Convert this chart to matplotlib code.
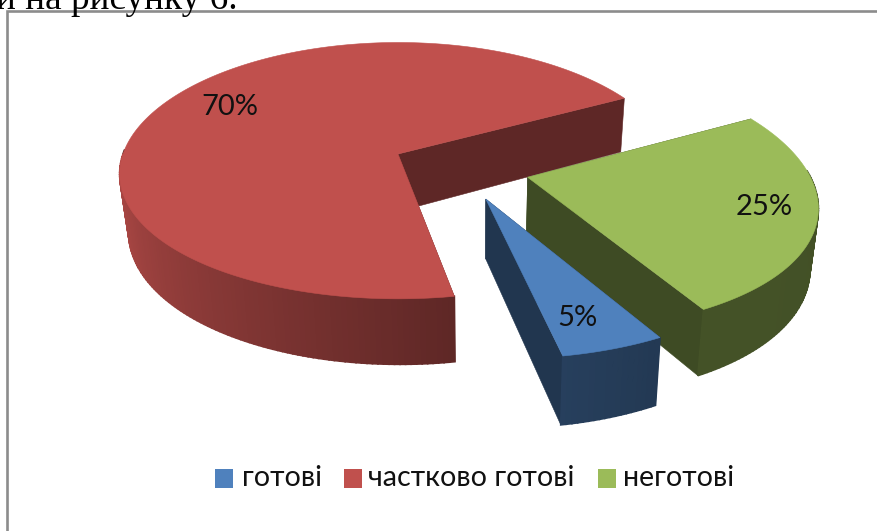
import numpy as np
from matplotlib import pyplot as plt
from matplotlib.patches import Rectangle

labels = ['готові', 'частково готові', 'неготові']
values = [5, 70, 25]
colors = ['#4F81BD', '#C0504D', '#9BBB59']
side_shades = [0.42, 0.49, 0.40]
pct_labels = ['5%', '70%', '25%']

start_angle = -62  # slices run clockwise from here
explode = 0.247
fonts = ['Lato', 'Open Sans', 'DejaVu Sans']


def project(X, Y, Z):
    # camera view of the pie, Z=1 is the bottom plane
    sx = 398 + 275 * X / (1 + 0.155 * Y)
    sy = 154 - (126 * Y - 57 * Z) / (1 + 0.13 * Y)
    sx = sx - Z * 0.025 * (sx - 480)
    return sx, sy


def shade(color, f):
    rgb = np.array(plt.matplotlib.colors.to_rgb(color))
    return tuple(rgb * f)


def wall_factor(theta):
    # lighter on the left of the pie, dark towards the front right
    t = (theta + 180) % 360 - 180
    return np.interp(t, [-180, -170, -80, -62, 40], [0.92, 0.9, 0.49, 0.44, 0.42])


fig = plt.figure(figsize=(8.78, 5.31), dpi=100)
ax = fig.add_axes([0, 0, 1, 1])
ax.set_xlim(0, 878)
ax.set_ylim(531, 0)
ax.axis('off')

# body text above the chart, cut by the frame
ax.text(-4, 9, 'и на рисунку 6.', family='Liberation Serif', fontsize=26.8, color='black', va='baseline')
ax.add_patch(Rectangle((8, 11), 870, 520, facecolor='white', edgecolor='none', zorder=1))
ax.plot([7.5, 7.5, 878], [531, 11, 11], color='#8c8c8c', lw=1.9, solid_joinstyle='miter', zorder=2)

# work out each slice
ends = start_angle - 3.6 * np.cumsum(values)
starts = ends + 3.6 * np.array(values)
mids = (starts + ends) / 2
red_mid = np.radians(mids[1])

# red at the back, then green, then blue
for i in [1, 2, 0]:
    m = np.radians(mids[i])
    ox = explode * (np.cos(m) - np.cos(red_mid))
    oy = explode * (np.sin(m) - np.sin(red_mid))
    th = np.arange(ends[i], starts[i] + 0.5, 1.0)
    th[-1] = starts[i]
    cx = ox + np.cos(np.radians(th))
    cy = oy + np.sin(np.radians(th))
    tx, ty = project(cx, cy, 0)
    bx, by = project(cx, cy, 1)

    # flat side walls first
    dark = shade(colors[i], side_shades[i])
    px, py = project(ox, oy, 0)
    qx, qy = project(ox, oy, 1)
    ax.fill([px, tx[0], bx[0], qx], [py, ty[0], by[0], qy], color=dark, lw=0.4, zorder=3)
    ax.fill([px, tx[-1], bx[-1], qx], [py, ty[-1], by[-1], qy], color=dark, lw=0.4, zorder=3)

    # outer wall, only the part facing us
    for j in range(len(th) - 1):
        if np.sin(np.radians(th[j])) > 0.05:
            continue
        c = shade(colors[i], wall_factor(th[j]))
        ax.fill([tx[j], tx[j + 1], bx[j + 1], bx[j]], [ty[j], ty[j + 1], by[j + 1], by[j]],
                color=c, lw=1.2, zorder=3)

    # top
    ax.fill(np.r_[px, tx], np.r_[py, ty], color=colors[i], lw=0.4, zorder=3)

# data labels
for txt, x, y in zip(pct_labels, [577, 230, 764], [318, 107, 207]):
    ax.text(x, y, txt, family=fonts, fontsize=21, color='#111111', ha='center', va='center', zorder=4)

# legend
for lab, col, sq_x, tx_x in zip(labels, colors, [215, 344, 598], [242, 368, 623]):
    ax.add_patch(Rectangle((sq_x, 469), 18, 19, facecolor=col, edgecolor='none', zorder=4))
    ax.text(tx_x, 478, lab, family=fonts, fontsize=20.6, color='#111111', ha='left', va='center', zorder=4)

fig.savefig('out.png', dpi=100)
